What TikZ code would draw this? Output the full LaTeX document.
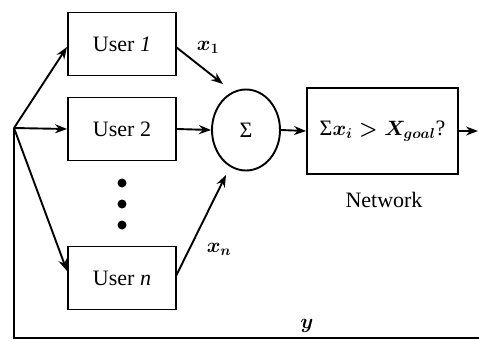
\documentclass[tikz,border=0pt]{standalone}
\usepackage{fontspec}
\setmainfont{Liberation Serif}
\usetikzlibrary{arrows.meta,shapes.geometric}
\begin{document}
\begin{tikzpicture}[x=1pt,y=-1pt,
  line width=1.9pt,
  font=\fontsize{22}{26}\selectfont\boldmath,
  box/.style={draw,rectangle,inner sep=0pt,line width=1.9pt},
  arr/.style={-{Stealth[length=12pt,width=9pt]}},
  lbl/.style={inner sep=0pt}]
\useasboundingbox (0,0) rectangle (479,341);
\node[box,minimum width=108pt,minimum height=63pt] (u1) at (122,44) {User \textit{1}};
\node[box,minimum width=108pt,minimum height=63pt] (u2) at (122,129) {User 2};
\node[box,minimum width=108pt,minimum height=63pt] (un) at (122,278) {User \textit{n}};
\node[draw,ellipse,minimum width=68pt,minimum height=81pt,inner sep=0pt,line width=1.9pt] (sig) at (246,130) {Σ};
\node[box,minimum width=151pt,minimum height=86pt] (net) at (382.5,131) {Σ$x_i > X_{goal}$?};
\node[lbl] (netl) at (384,200) {Network};
\coordinate (br) at (14,128);
\coordinate (t1) at (223,84);
\coordinate (tn) at (226,175);
\coordinate (out) at (478,131);
\coordinate (bl) at (14,338);
\coordinate (brt) at (479,338);
\coordinate (u1in) at (67,47);
\coordinate (unin) at (67,271);
\coordinate (u1out) at (176,47);
\coordinate (unout) at (176,276);
\foreach \yy/\nm in {183/d1,204/d2,225/d3}
  \fill (122,\yy) circle (4.5pt);
\draw[arr] (br) -- (u1in);
\draw[arr] (br) -- (u2.west);
\draw[arr] (br) -- (unin);
\draw[arr] (u1out) -- (t1);
\draw[arr] (u2.east) -- (sig.west);
\draw[arr] (unout) -- (tn);
\draw[arr] (sig.east) -- (net.west);
\draw[arr] (net.east) -- (out);
\draw (br) -- (bl) -- (brt);
\node[lbl] (x1) at (208,47) {$x_1$};
\node[lbl] (xn) at (219,249) {$x_n$};
\node[lbl] (yl) at (307,326) {$y$};
\end{tikzpicture}
\end{document}
